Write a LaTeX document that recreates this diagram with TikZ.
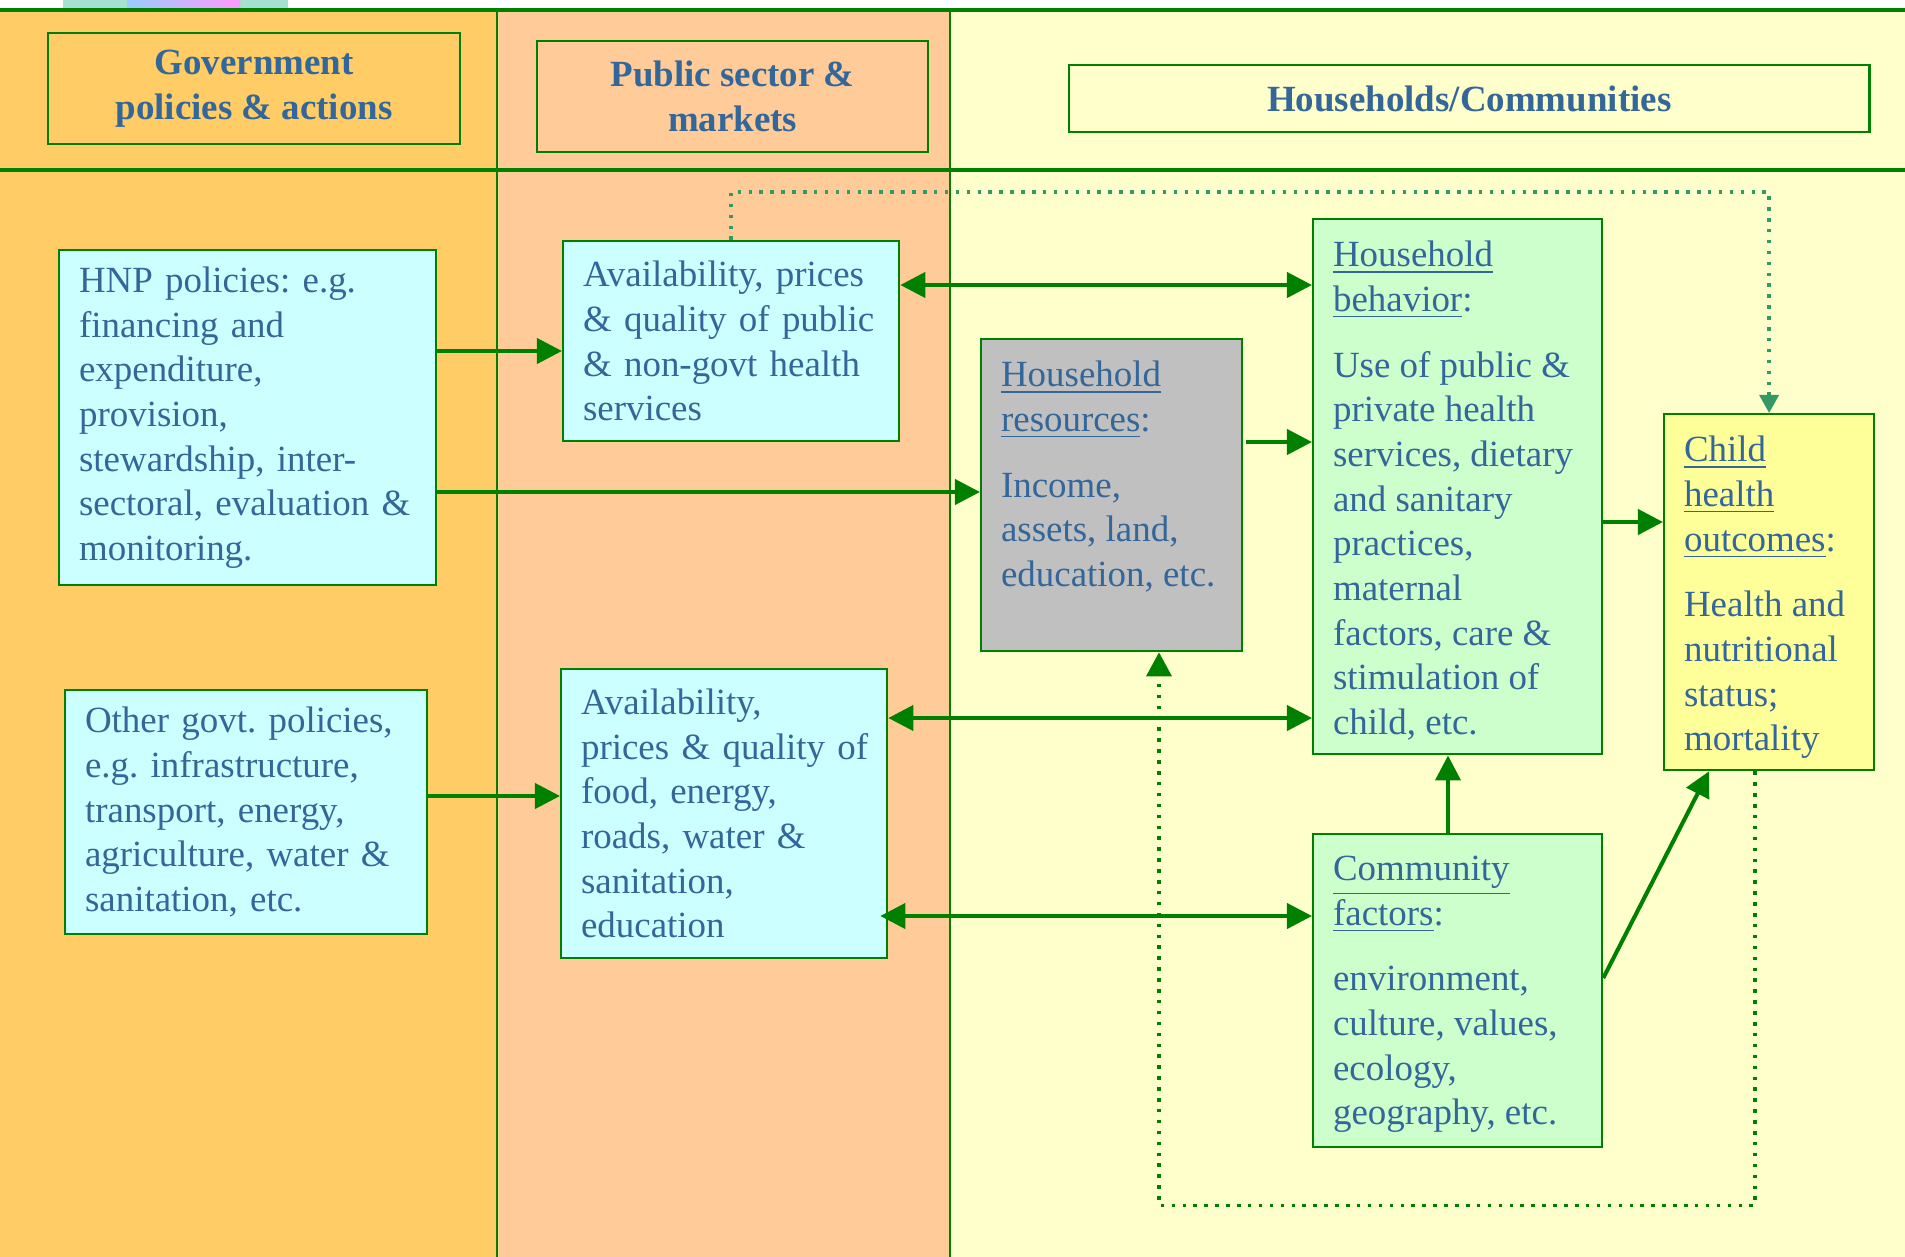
\documentclass[tikz,border=0pt]{standalone}
\usepackage{fontspec}
\setmainfont{Liberation Serif}
\usepackage{xcolor}
\usepackage{tikz}
\usetikzlibrary{arrows.meta,positioning}

\definecolor{govcol}{HTML}{FFCC66}
\definecolor{pubcol}{HTML}{FFCC99}
\definecolor{hhcol}{HTML}{FFFFCC}
\definecolor{cyanbox}{HTML}{CCFFFF}
\definecolor{greenbox}{HTML}{CCFFCC}
\definecolor{graybox}{HTML}{C0C0C0}
\definecolor{childbox}{HTML}{FFFF99}
\definecolor{linegreen}{HTML}{008000}
\definecolor{dotgreen}{HTML}{339966}
\definecolor{txtblue}{HTML}{336699}

\newcommand{\boxfont}{\fontsize{10.5}{12.7}\selectfont\frenchspacing}
% text sitting at the top of a fixed box: width, height, text
\newcommand{\toptext}[3]{\parbox[c][#2][t]{#1}{\raggedright #3}}

\tikzstyle{header} = [rectangle, draw=linegreen, line width=0.6pt, text=txtblue, font=\boxfont\bfseries, align=center, anchor=north west]
\tikzstyle{squared} = [rectangle, draw=linegreen, line width=0.6pt, text=txtblue, font=\boxfont, align=left, anchor=north west, inner xsep=0.2cm, inner ysep=0pt]
\tikzstyle{topsquared} = [squared, inner ysep=0.22cm]
\tikzstyle{connect1} = [line width=1.15pt, draw=linegreen, -{Triangle[length=0.25cm,width=0.25cm]}]
\tikzstyle{connect2} = [line width=1.15pt, draw=linegreen, {Triangle[length=0.25cm,width=0.25cm]}-{Triangle[length=0.25cm,width=0.25cm]}]
\tikzstyle{dotted1} = [line width=1pt, draw=dotgreen, dash pattern=on 1pt off 2.1pt, -{Triangle[length=0.18cm,width=0.19cm]}]
\tikzstyle{dotted2} = [line width=1pt, draw=linegreen, dash pattern=on 1pt off 2.1pt, -{Triangle[length=0.24cm,width=0.25cm]}]

\begin{document}
\begin{tikzpicture}[x=0.01cm, y=-0.01cm]
			% latar belakang: tiga kolom
			\useasboundingbox (0,0) rectangle (1905,1257);
			\fill[white] (0,0) rectangle (1905,1257);
			\fill[govcol] (0,10) rectangle (497,1257);
			\fill[pubcol] (497,10) rectangle (950,1257);
			\fill[hhcol] (950,10) rectangle (1905,1257);
			\fill[cyan!45!green!35] (63,0) rectangle (288,9);
			\shade[left color=cyan!50!blue!40, right color=magenta!40] (127,0) rectangle (240,9);
			\draw[linegreen, line width=0.95pt] (0,10) -- (1905,10);
			\draw[linegreen, line width=0.95pt] (0,170) -- (1905,170);
			\draw[linegreen, line width=0.6pt] (497,10) -- (497,1257);
			\draw[linegreen, line width=0.6pt] (950,10) -- (950,1257);

			% judul kolom
			\node (govhead) [header, minimum width=4.12cm, minimum height=1.11cm] at (47,32) {Government\\ policies \& actions};
			\node (pubhead) [header, minimum width=3.91cm, minimum height=1.11cm] at (536,40) {Public sector \&\\ markets};
			\node (hhhead) [header, minimum width=8.00cm, minimum height=0.67cm] at (1068,64) {Households/Communities};

			% kotak-kotak
			\node (hnp) [squared, fill=cyanbox, minimum width=3.77cm, minimum height=3.35cm, text width=3.37cm] at (58,249) {HNP policies: e.g.\\ financing and\\ expenditure,\\ provision,\\ stewardship, inter-\\ \mbox{sectoral, evaluation \&}\\ monitoring.};
			\node (other) [squared, fill=cyanbox, minimum width=3.62cm, minimum height=2.44cm, text width=3.22cm] at (64,689) {\mbox{Other govt. policies,}\\ e.g. infrastructure,\\ transport, energy,\\ \mbox{agriculture, water \&}\\ sanitation, etc.};
			\node (healthsvc) [squared, fill=cyanbox, minimum width=3.36cm, minimum height=2.00cm, text width=2.96cm] at (562,240) {\mbox{Availability, prices}\\ \mbox{\& quality of public}\\ \& non-govt health\\ services};
			\node (foodsvc) [squared, fill=cyanbox, minimum width=3.26cm, minimum height=2.89cm, text width=2.86cm] at (560,668) {Availability,\\ \mbox{prices \& quality of}\\ food, energy,\\ roads, water \&\\ sanitation,\\ education};
			\node (resources) [topsquared, fill=graybox, minimum width=2.61cm, minimum height=3.12cm] at (980,338) {\toptext{2.21cm}{2.68cm}{\underline{Household}\\ \underline{resources}:\\[6pt] Income,\\ assets, land,\\ \mbox{education, etc.}}};
			\node (behavior) [topsquared, fill=greenbox, minimum width=2.89cm, minimum height=5.35cm] at (1312,218) {\toptext{2.49cm}{4.91cm}{\underline{Household}\\ \underline{behavior}:\\[6pt] Use of public \&\\ private health\\ \mbox{services, dietary}\\ and sanitary\\ practices,\\ maternal\\ factors, care \&\\ stimulation of\\ child, etc.}};
			\node (community) [topsquared, fill=greenbox, minimum width=2.89cm, minimum height=3.13cm] at (1312,833) {\toptext{2.49cm}{2.69cm}{\underline{Community}\\ \underline{factors}:\\[6pt] environment,\\ culture, values,\\ ecology,\\ geography, etc.}};
			\node (child) [topsquared, fill=childbox, minimum width=2.10cm, minimum height=3.56cm] at (1663,413) {\toptext{1.70cm}{3.12cm}{\underline{Child}\\ \underline{health}\\ \underline{outcomes}:\\[6pt] \mbox{Health and}\\ nutritional\\ status;\\ mortality}};

			% panah
			\draw [connect1] (hnp.east |- 0,351) -- (healthsvc.west |- 0,351);
			\draw [connect1] (hnp.east |- 0,492) -- (resources.west |- 0,492);
			\draw [connect1] (other.east |- 0,796) -- (foodsvc.west |- 0,796);
			\draw [connect2] (healthsvc.east |- 0,285) -- (behavior.west |- 0,285);
			\draw [connect2] (foodsvc.east |- 0,718) -- (behavior.west |- 0,718);
			\draw [connect2] ([xshift=-0.08cm]foodsvc.east |- 0,916) -- (community.west |- 0,916);
			\draw [connect1] ([xshift=0.03cm]resources.east |- 0,442) -- (behavior.west |- 0,442);
			\draw [connect1] (behavior.east |- 0,522) -- (child.west |- 0,522);
			\draw [connect1] (community.north -| 1448,0) -- (behavior.south -| 1448,0);
			\draw [connect1] (community.east |- 0,978) -- ([xshift=0.46cm]child.south west);

			% garis titik-titik
			\draw [dotted1] (healthsvc.north) -- ++(0,-48) -| (child.north);
			\draw [dotted2] (child.south -| 1755,0) -- ++(0,434) -| (resources.south -| 1159,0);
		\end{tikzpicture}
\end{document}
